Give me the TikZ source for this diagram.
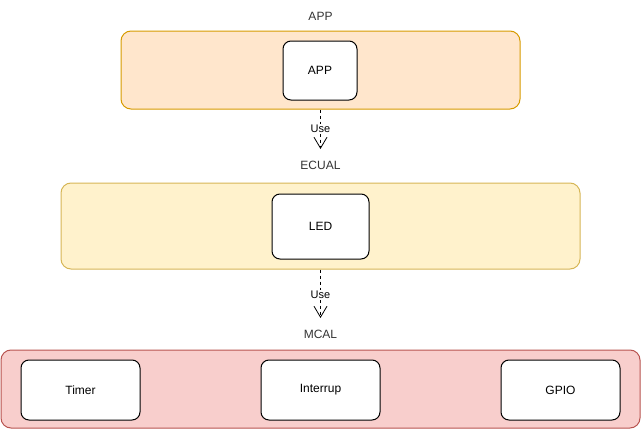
\documentclass[tikz,border=0pt]{standalone}
\usepackage{fontspec}
\setmainfont{Liberation Sans}
\usetikzlibrary{arrows.meta}
\definecolor{appfill}{HTML}{FFE6CC}
\definecolor{appline}{HTML}{D79B00}
\definecolor{ecufill}{HTML}{FFF2CC}
\definecolor{eculine}{HTML}{D6B656}
\definecolor{mcalfill}{HTML}{F8CECC}
\definecolor{mcalline}{HTML}{B85450}
\definecolor{txt}{HTML}{333333}
\tikzset{
layer/.style={
	  draw, rounded corners=10pt, line width=1pt, inner sep=0pt},
module/.style={
	  draw, fill=white, rounded corners=8pt, line width=1pt, inner sep=0pt,
	  font=\fontsize{12}{14}\selectfont},
title/.style={font=\fontsize{12}{14}\selectfont, text=txt},
uses/.style={
	  dashed, line width=0.8pt, -{Straight Barb[length=11pt,width=13pt,line width=0.8pt]}},
uselabel/.style={fill=white, inner sep=1pt, font=\fontsize{11}{13}\selectfont}
}

\begin{document}
\begin{tikzpicture}[x=1pt, y=-1pt]
	\useasboundingbox (0,0) rectangle (641,431);
	% layers
	\node[layer, fill=appfill, draw=appline, minimum width=399pt, minimum height=78pt] (app) at (320.5,70) {};
	\node[layer, fill=ecufill, draw=eculine, minimum width=519pt, minimum height=86pt] (ecual) at (320.5,226) {};
	\node[layer, fill=mcalfill, draw=mcalline, minimum width=639pt, minimum height=78pt] (mcal) at (320.5,389) {};
	% titles
	\node[title] (apptitle) at (320.5,16) {APP};
	\node[title] (ecualtitle) at (320.5,165) {ECUAL};
	\node[title] (mcaltitle) at (320.5,334) {MCAL};
	% modules
	\node[module, minimum width=74pt, minimum height=59pt] (appmod) at (320,70.5) {APP};
	\node[module, minimum width=97pt, minimum height=65pt] (led) at (320.5,226.5) {LED};
	\foreach \name/\txt/\x in {timer/Timer/80.5, interrup/Interrup/320.5, gpio/GPIO/560.5}
		\node[module, minimum width=119pt, minimum height=60pt] (\name) at (\x,390) {\txt};
	% dependencies
	\coordinate (append) at (320.5,149);
	\coordinate (ecualend) at (320.5,318);
	\draw[uses] (app.south) -- (append) node[uselabel, pos=0.5] {Use};
	\draw[uses] (ecual.south) -- (ecualend) node[uselabel, pos=0.53] {Use};
\end{tikzpicture}
\end{document}
